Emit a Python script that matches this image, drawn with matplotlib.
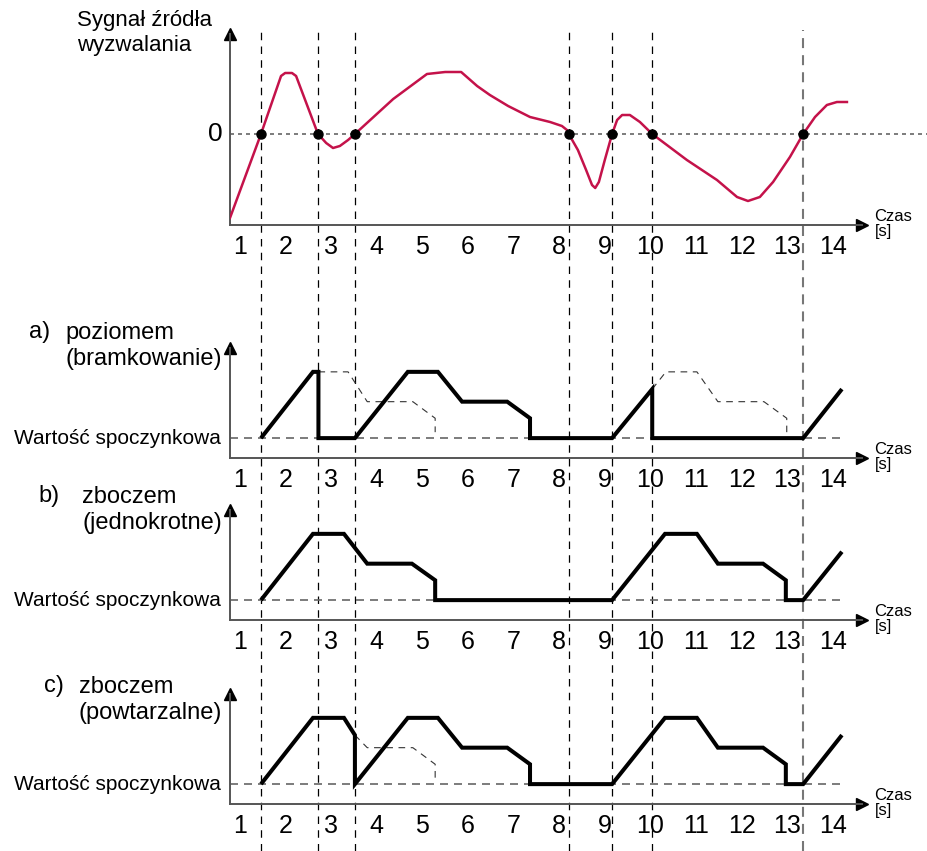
import matplotlib
matplotlib.use("Agg")
import matplotlib.pyplot as plt

plt.rcParams['font.family'] = ['Liberation Sans', 'DejaVu Sans']

# czasy (s) w ktorych sygnal przechodzi przez zero
trigger_t = [1.46, 2.71, 3.52, 8.21, 9.16, 10.04, 13.35]

# sygnal zrodla wyzwalania
sig_t = [0.78, 1.46, 1.90, 1.99, 2.14, 2.23, 2.71, 2.89, 3.04, 3.19, 3.37, 3.52,
         4.36, 5.10, 5.50, 5.85, 6.20, 6.48, 6.88, 7.36, 7.80, 8.06, 8.17, 8.21,
         8.41, 8.59, 8.72, 8.79, 8.87, 9.00, 9.16, 9.27, 9.38, 9.55, 9.77, 10.04,
         10.80, 11.46, 11.90, 12.14, 12.40, 12.69, 13.06, 13.35, 13.61, 13.87, 14.09,
         14.31]
sig_v = [-84, 0, 58, 61, 61, 58, 0, -9, -14, -12, -6, 0,
         35, 60, 62, 62, 48, 39, 28, 17, 12, 8, 4, 0,
         -16, -36, -51, -54, -48, -26, 0, 14, 19, 19, 12, 0,
         -26, -46, -63, -67, -63, -48, -23, 0, 17, 29, 32,
         32]

# a) poziomem (bramkowanie)
a_t = [1.46, 2.60, 2.72, 2.72, 3.52, 4.68, 5.34, 5.87, 6.86, 7.36, 7.36, 9.16, 10.04,
       10.04, 13.35, 14.20]
a_v = [0, 100, 100, 0, 0, 100, 100, 55, 55, 30, 0, 0, 74, 0, 0, 74]
a_ghost1_t = [2.72, 3.37, 3.79, 4.79, 5.28, 5.28]
a_ghost1_v = [100, 100, 55, 55, 30, 9]
a_ghost2_t = [10.04, 10.34, 11.02, 11.48, 12.49, 12.99, 12.99]
a_ghost2_v = [74, 100, 100, 55, 55, 30, 9]

# b) zboczem (jednokrotne)
b_t = [1.46, 2.60, 3.28, 3.79, 4.77, 5.28, 5.28, 9.16, 10.32, 11.02, 11.48, 12.47,
       12.97, 12.97, 13.35, 14.20]
b_v = [0, 100, 100, 55, 55, 30, 0, 0, 100, 100, 55, 55, 30, 0, 0, 73]

# c) zboczem (powtarzalne)
c_t = [1.46, 2.60, 3.28, 3.52, 3.52, 4.68, 5.34, 5.87, 6.86, 7.36, 7.36, 9.16, 10.32,
       11.02, 11.48, 12.47, 12.97, 12.97, 13.35, 14.20]
c_v = [0, 100, 100, 74, 0, 100, 100, 55, 55, 30, 0, 0, 100, 100, 55, 55, 30, 0, 0, 74]
c_ghost_t = [3.52, 3.79, 4.79, 5.28, 5.28]
c_ghost_v = [74, 55, 55, 30, 9]

tick_labels = [str(i) for i in range(1, 15)]
rest_label = 'Wartość spoczynkowa'

W, H = 927, 851
T0 = 1 - 240 / 45.6        # czas na lewej krawedzi rysunku
T1 = 1 + 687 / 45.6        # czas na prawej krawedzi
TL = 1 - 10 / 45.6         # os y
TR = 1 + 622 / 45.6        # koniec osi x
RED = '#c4124a'
GRAY = '#666666'


def box(x0, y0, x1, y1):
    return [x0 / W, 1 - y1 / H, (x1 - x0) / W, (y1 - y0) / H]


def panel(top, bottom, ylim):
    ax = fig.add_axes(box(230, top, 862, bottom))
    ax.set_xlim(TL, TR)
    ax.set_ylim(*ylim)
    ax.patch.set_visible(False)
    ax.spines['top'].set_visible(False)
    ax.spines['right'].set_visible(False)
    for s in ['left', 'bottom']:
        ax.spines[s].set_color('#555555')
        ax.spines[s].set_linewidth(1.4)
    ax.set_yticks([])
    ax.set_xticks(range(1, 15))
    ax.set_xticklabels(tick_labels)
    ax.tick_params(axis='x', length=0, pad=7, labelsize=18)
    ax.plot(1, 0, '>k', ms=9, transform=ax.transAxes, clip_on=False)
    ax.plot(0, 1, '^k', ms=9, transform=ax.transAxes, clip_on=False)
    ax.annotate('Czas\n[s]', xy=(1, 0), xycoords='axes fraction', xytext=(9, 1),
                textcoords='offset points', ha='left', va='center', fontsize=12,
                linespacing=1.0)
    return ax


fig = plt.figure(figsize=(W / 100, H / 100), dpi=100)

# pionowe linie wyzwolen przez caly rysunek
bg = fig.add_axes([0, 0, 1, 1])
bg.set_xlim(T0, T1)
bg.set_ylim(0, 1)
bg.axis('off')
for t in trigger_t[:-1]:
    bg.axvline(t, ymin=0, ymax=1 - 30 / H, color='black', lw=0.9, dashes=(6, 5))
bg.axvline(trigger_t[-1], ymin=0, ymax=1 - 30 / H, color='#777777', lw=1.5,
           dashes=(4.8, 3.4))

# sygnal
ax0 = panel(34, 225, (-91, 100))
ax0.plot([TL, T1], [0, 0], color=GRAY, lw=1.2, dashes=(2.4, 2.4), clip_on=False)
ax0.plot(sig_t, sig_v, color=RED, lw=1.8, solid_joinstyle='round', zorder=3)
ax0.plot(trigger_t, [0] * len(trigger_t), 'o', color='black', ms=6.5, zorder=4)
ax0.text(TL - 0.33, 0, '0', fontsize=19, ha='center', va='center')
fig.text(77 / W, 1 - 33 / H, 'Sygnał źródła\nwyzwalania', fontsize=16,
         ha='left', va='center', linespacing=1.25)

lower = [
    (348, 458, a_t, a_v, [(a_ghost1_t, a_ghost1_v), (a_ghost2_t, a_ghost2_v)],
     'a)', 'poziomem\n(bramkowanie)', 346, 50),
    (510, 620, b_t, b_v, [], 'b)', 'zboczem\n(jednokrotne)', 510, 60),
    (694, 804, c_t, c_v, [(c_ghost_t, c_ghost_v)], 'c)', 'zboczem\n(powtarzalne)', 700, 64),
]

for top, bottom, xt, yv, ghosts, letter, title, ty, lx in lower:
    ax = panel(top, bottom, (-30, 136))
    ax.plot([TL, 14.27], [0, 0], color=GRAY, lw=1.2, dashes=(4.8, 3.6), clip_on=False)
    for gt, gv in ghosts:
        ax.plot(gt, gv, color='#333333', lw=0.8, dashes=(6, 5))
    ax.plot(xt, yv, color='black', lw=2.9, solid_joinstyle='miter',
            solid_capstyle='butt', zorder=3)
    ax.text(TL - 0.2, 0, rest_label, fontsize=15, ha='right', va='center')
    fig.text(222 / W, 1 - ty / H, title, fontsize=17, ha='right', va='center',
             multialignment='left', linespacing=1.2)
    fig.text(lx / W, 1 - (ty - 14) / H, letter, fontsize=17, ha='right', va='center')

fig.savefig('out.png', dpi=100)
